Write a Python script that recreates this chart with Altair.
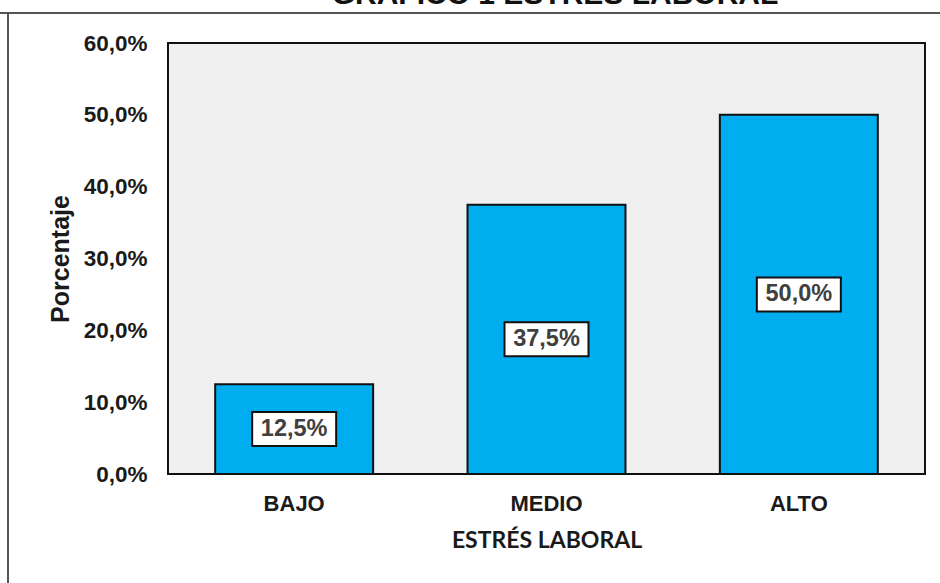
import altair as alt
import pandas as pd

categories = ["BAJO", "MEDIO", "ALTO"]
percentages = [12.5, 37.5, 50.0]
y_ticks = [0, 10, 20, 30, 40, 50, 60]
title_text = "GRÁFICO 1 ESTRÉS LABORAL"
x_title = "ESTRÉS LABORAL"
y_title = "Porcentaje"

df = pd.DataFrame({"cat": categories, "pct": percentages})

W, H = 757, 431
PL, PT = 168, 43

fmt = "replace(format(datum.value, '.1f'), '.', ',') + '%'"
TXT = "#1a1a1a"
FONT = "Liberation Sans"

x_enc = alt.X(
    "cat:N",
    sort=categories,
    scale=alt.Scale(paddingInner=0.374, paddingOuter=0.187),
    axis=alt.Axis(
        title=x_title, labelAngle=0, ticks=False, tickSize=0, domain=False,
        labelPadding=19, labelFont=FONT, labelFontSize=22, labelFontWeight="bold",
        labelColor=TXT, titleFont="Lato", titleFontSize=23, titleFontWeight="bold",
        titleColor=TXT, titleY=66, titleBaseline="middle",
    ),
)
y_enc = alt.Y(
    "pct:Q",
    scale=alt.Scale(domain=[0, 60]),
    axis=alt.Axis(
        values=y_ticks, labelExpr=fmt, grid=False, ticks=False, tickSize=0, domain=False,
        labelPadding=21, labelFont=FONT, labelFontSize=22.5, labelFontWeight="bold",
        labelColor=TXT, labelBaseline="middle",
        title=y_title, titleAngle=-90, titleX=-108, titleY=H / 2,
        titleBaseline="middle", titleAlign="center", titleFont=FONT,
        titleFontSize=25, titleFontWeight="bold", titleColor=TXT,
    ),
)

base = alt.Chart(df)

bars = base.mark_bar(color="#00adef", stroke="#111111", strokeWidth=2).encode(x=x_enc, y=y_enc)

lab = base.transform_calculate(
    mid="datum.pct / 2",
    lbl="replace(format(datum.pct, '.1f'), '.', ',') + '%'",
)
boxes = lab.mark_tick(size=84, thickness=34, color="white", stroke="#111111",
                      strokeWidth=2, opacity=1).encode(x=alt.X("cat:N", sort=categories), y=alt.Y("mid:Q"))
texts = lab.mark_text(font=FONT, fontSize=23.5, fontWeight="bold", color="#404040",
                      baseline="middle", align="center").encode(
    x=alt.X("cat:N", sort=categories), y=alt.Y("mid:Q"), text="lbl:N")

one = alt.Data(values=[{"k": 0}])
top_line = alt.Chart(one).mark_rule(color="#555555", strokeWidth=2).encode(
    x=alt.value(-PL), x2=alt.value(940 - PL), y=alt.value(13 - PT))
left_line = alt.Chart(one).mark_rule(color="#555555", strokeWidth=2).encode(
    x=alt.value(8 - PL), y=alt.value(13 - PT), y2=alt.value(583 - PT))
title = alt.Chart(one).mark_text(text=title_text, font=FONT, fontSize=30, fontWeight="bold",
                                 color="#111111", align="center", baseline="alphabetic").encode(
    x=alt.value(555 - PL), y=alt.value(4 - PT))

chart = alt.layer(bars, boxes, texts, top_line, left_line, title).properties(
    width=W, height=H,
    autosize=alt.AutoSizeParams(type="none"),
    padding={"left": PL, "top": PT, "right": 940 - PL - W, "bottom": 583 - PT - H},
    background="white",
).configure_view(fill="#f0f0f0", stroke="#111111", strokeWidth=2)

chart.save("out.html", embed_options={"renderer": "svg", "actions": False})
